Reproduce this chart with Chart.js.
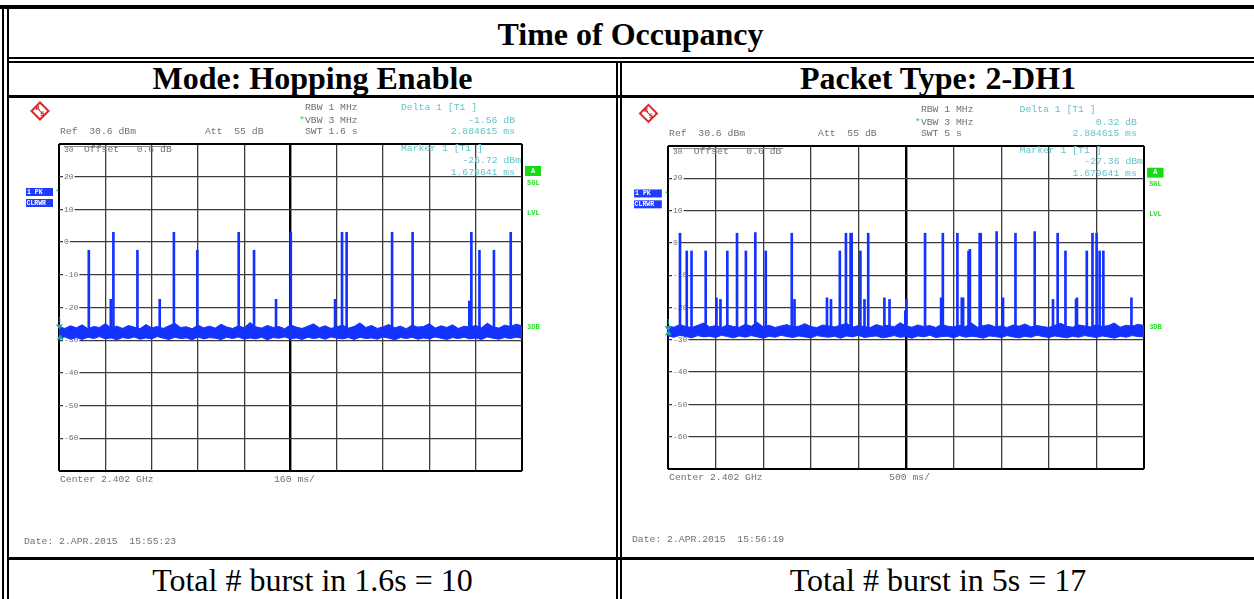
<!DOCTYPE html>
<html>
<head>
<meta charset="utf-8">
<script src="https://cdn.jsdelivr.net/npm/chart.js@4"></script>
<style>
html,body{margin:0;padding:0;background:#fff;}
#page{position:relative;width:1254px;height:599px;overflow:hidden;background:#fff;}
.ln{position:absolute;background:#000;}
.cell{position:absolute;text-align:center;font-family:"Liberation Serif","Times New Roman",serif;font-size:32px;line-height:32px;color:#000;white-space:nowrap;}
.b{font-weight:bold;}
canvas{position:absolute;}
</style>
</head>
<body>
<div id="page">
  <!-- table rules -->
  <div class="ln" style="left:0;top:5px;width:1254px;height:4px"></div>
  <div class="ln" style="left:2px;top:5px;width:2px;height:594px"></div>
  <div class="ln" style="left:7px;top:9px;width:2px;height:590px"></div>
  <div class="ln" style="left:7px;top:57px;width:1247px;height:2px"></div>
  <div class="ln" style="left:7px;top:61px;width:1247px;height:2px"></div>
  <div class="ln" style="left:616px;top:61px;width:2px;height:538px"></div>
  <div class="ln" style="left:620px;top:61px;width:2px;height:538px"></div>
  <div class="ln" style="left:7px;top:95px;width:1247px;height:3px"></div>
  <div class="ln" style="left:7px;top:557px;width:1247px;height:3px"></div>

  <div class="cell b" style="left:7px;width:1247px;top:18px">Time of Occupancy</div>
  <div class="cell b" style="left:9px;width:607px;top:62px">Mode: Hopping Enable</div>
  <div class="cell b" style="left:622px;width:632px;top:62px">Packet Type: 2-DH1</div>
  <div class="cell" style="left:9px;width:607px;top:564px">Total # burst in 1.6s = 10</div>
  <div class="cell" style="left:622px;width:632px;top:564px">Total # burst in 5s = 17</div>

  <canvas id="leftTrace" width="606" height="458" style="left:10px;top:99px"></canvas>
  <canvas id="rightTrace" width="631" height="458" style="left:623px;top:99px"></canvas>
</div>

<script>
// ---- level axis (dBm) ----
const levelMin = -70;
const levelMax = 30;
const levelTickLabels = ['30', '20', '10', '0', '-10', '-20', '-30', '-40', '-50', '-60'];
const burstBase = -27.5;

// ---- sweep 1: hopping enabled, SWT 1.6 s (time in ms) ----
const leftSweepMs = 1600;
const leftSpikeTimes = [103, 179, 188, 271, 348, 397, 478, 621, 674, 750, 801, 954, 978, 994, 1151, 1222, 1418, 1425, 1453, 1503, 1561];
const leftSpikePeaks = [-2.5, -17.5, 3, -2.5, -17.5, 3, -2.5, 3, -2.5, -17.5, 3, -17.5, 3, 3, 3, 3, -18, 3, -2.5, -2.5, 3];
const leftNoiseTimes = [0,20,40,60,80,100,120,140,160,180,200,220,240,260,280,300,320,340,360,380,
  400,420,440,460,480,500,520,540,560,580,600,620,640,660,680,700,720,740,760,780,
  800,820,840,860,880,900,920,940,960,980,1000,1020,1040,1060,1080,1100,1120,1140,1160,1180,
  1200,1220,1240,1260,1280,1300,1320,1340,1360,1380,1400,1420,1440,1460,1480,1500,1520,1540,1560,1580,1600];
const leftNoiseTop = [-25.9,-26.4,-25.6,-26.2,-25.3,-26.5,-25.8,-26.1,-24.9,-26.3,
  -25.7,-26.4,-25.5,-26.0,-26.5,-25.2,-26.2,-25.8,-26.4,-25.6,
  -24.8,-26.1,-25.9,-26.5,-25.4,-26.2,-25.7,-26.3,-25.1,-26.0,
  -26.4,-25.6,-26.2,-24.6,-25.9,-26.3,-25.5,-26.1,-25.8,-26.5,
  -25.3,-26.0,-26.4,-25.7,-25.0,-26.2,-25.6,-26.4,-25.9,-25.4,
  -26.3,-25.8,-24.7,-26.1,-25.5,-26.4,-25.9,-25.2,-26.2,-25.7,
  -26.5,-25.4,-26.0,-25.8,-24.9,-26.3,-25.6,-26.1,-25.3,-26.4,
  -25.7,-26.0,-25.5,-26.2,-24.8,-25.9,-26.3,-25.4,-25.8,-25.1,-25.6];
const leftNoiseBottom = [-29.4,-29.0,-29.7,-29.2,-29.8,-29.1,-29.5,-28.9,-29.6,-29.3,
  -29.9,-29.2,-29.5,-29.0,-29.7,-29.3,-29.6,-28.9,-29.4,-29.8,
  -29.1,-29.5,-29.3,-29.9,-29.0,-29.6,-29.2,-29.4,-29.8,-29.1,
  -29.5,-29.0,-29.7,-29.3,-29.6,-29.1,-29.9,-29.2,-29.4,-29.0,
  -29.6,-29.3,-29.8,-29.1,-29.5,-29.2,-29.7,-29.0,-29.4,-29.6,
  -29.2,-29.8,-29.1,-29.5,-29.3,-29.7,-29.0,-29.4,-29.9,-29.2,
  -29.5,-29.1,-29.7,-29.3,-29.6,-29.0,-29.4,-29.8,-29.2,-29.5,
  -29.1,-29.6,-29.3,-29.8,-29.0,-29.4,-29.7,-29.2,-29.5,-29.1,-29.4];
const leftMarker = [1.679641, -26.72];   // ms, dBm
const leftDelta = [2.884615, -1.56];     // ms, dB
const leftText = ['RBW 1 MHz', 'VBW 3 MHz', 'SWT 1.6 s', 'Ref  30.6 dBm', 'Att  55 dB',
  '-1.56 dB', '2.884615 ms', '-26.72 dBm', '1.679641 ms', '160 ms/', 'Date: 2.APR.2015  15:55:23'];

// ---- sweep 2: packet type 2-DH1, SWT 5 s (time in ms) ----
const rightSweepMs = 5000;
const rightSpikeTimes = [126,197,247,396,509,551,623,725,818,917,1027,1300,1329,1670,1712,1805,1869,1918,1929,2021,2064,2103,2273,2327,2493,2504,2700,2869,2887,3040,3086,3100,3157,3171,3274,3285,3452,3519,3650,3852,4044,4093,4175,4286,4296,4399,4459,4502,4534,4573,4868];
const rightSpikePeaks = [3,-2.5,-2.5,-2.5,-17,-17.5,-2.5,3,-2.5,3.2,-2.5,3,-17.5,-17,-17.5,-2.5,3,3,3,-2.5,-17.5,3,-17,-17.5,-21,-17.5,3,-17,3,3,-17,-17,-2.5,-2,3,3,3.5,-17,3,3.5,-17.5,3,-2.5,-17.5,-17,-2.5,3,3,-2.5,-2.5,-17];
const rightNoiseTimes = [0,62.5,125,187.5,250,312.5,375,437.5,500,562.5,625,687.5,750,812.5,875,937.5,
  1000,1062.5,1125,1187.5,1250,1312.5,1375,1437.5,1500,1562.5,1625,1687.5,1750,1812.5,1875,1937.5,
  2000,2062.5,2125,2187.5,2250,2312.5,2375,2437.5,2500,2562.5,2625,2687.5,2750,2812.5,2875,2937.5,
  3000,3062.5,3125,3187.5,3250,3312.5,3375,3437.5,3500,3562.5,3625,3687.5,3750,3812.5,3875,3937.5,
  4000,4062.5,4125,4187.5,4250,4312.5,4375,4437.5,4500,4562.5,4625,4687.5,4750,4812.5,4875,4937.5,5000];
const rightNoiseTop = [-25.7,-26.1,-25.3,-25.9,-26.2,-25.5,-24.8,-26.0,-25.6,-26.2,
  -25.4,-25.9,-26.1,-25.2,-25.8,-24.6,-26.0,-25.5,-26.2,-25.7,
  -25.3,-26.1,-25.8,-25.0,-25.9,-26.2,-25.4,-25.7,-26.0,-25.5,
  -24.9,-26.1,-25.6,-25.9,-26.2,-25.3,-25.8,-25.5,-26.0,-24.7,
  -25.7,-26.1,-25.4,-25.9,-25.6,-26.2,-25.2,-25.8,-26.0,-25.5,
  -25.9,-24.8,-26.1,-25.6,-25.3,-26.0,-25.7,-26.2,-25.4,-25.8,
  -25.1,-26.0,-25.6,-25.9,-26.2,-25.5,-24.9,-25.8,-26.1,-25.4,
  -25.7,-26.0,-25.3,-25.9,-25.6,-24.8,-26.1,-25.5,-25.8,-25.2,-25.6];
const rightNoiseBottom = [-28.8,-29.2,-28.6,-29.0,-29.4,-28.7,-29.1,-28.9,-29.3,-28.6,
  -29.0,-29.4,-28.8,-29.2,-28.7,-29.1,-29.5,-28.9,-29.2,-28.6,
  -29.0,-29.3,-28.8,-29.1,-29.4,-28.7,-29.0,-29.2,-28.9,-29.5,
  -28.8,-29.1,-28.6,-29.3,-29.0,-28.8,-29.4,-29.1,-28.7,-29.2,
  -29.0,-29.5,-28.8,-29.1,-28.6,-29.3,-29.0,-28.9,-29.4,-28.7,
  -29.2,-28.9,-29.1,-29.5,-28.8,-29.0,-29.3,-28.7,-29.1,-29.4,
  -28.9,-29.2,-28.6,-29.0,-29.3,-28.8,-29.1,-29.4,-28.9,-29.2,
  -28.7,-29.0,-29.3,-28.8,-29.1,-29.5,-28.9,-29.2,-28.7,-29.0,-29.1];
const rightMarker = [1.679641, -27.36];
const rightDelta = [2.884615, 0.32];
const rightText = ['RBW 1 MHz', 'VBW 3 MHz', 'SWT 5 s', 'Ref  30.6 dBm', 'Att  55 dB',
  '0.32 dB', '2.884615 ms', '-27.36 dBm', '1.679641 ms', '500 ms/', 'Date: 2.APR.2015  15:56:19'];

const TRACE = '#1432ff';
const GREY_TXT = '#707070';
const CYAN_TXT = '#62c4ca';
const GREEN = '#22dd22';
const MONO = '"Liberation Mono", "DejaVu Sans Mono", monospace';

function makeAnalyzer(id, sweepMs, times, top, bottom, spikeT, spikeP, marker, delta, txt, pad) {
  const canvas = document.getElementById(id);

  const screenPlugin = {
    id: 'screen_' + id,
    beforeDatasetsDraw(chart) {
      const c = chart.ctx, a = chart.chartArea, ys = chart.scales.y;
      c.save();
      c.font = '8px ' + MONO;
      c.textBaseline = 'middle';
      levelTickLabels.forEach((lab, i) => {
        const v = levelMax - i * 10;
        const x = a.left + 5;
        if (v === levelMax) {
          c.fillStyle = GREY_TXT;
          c.fillText(lab, x, a.top + 6);
          return;
        }
        const y = ys.getPixelForValue(v);
        const w = c.measureText(lab).width;
        c.fillStyle = '#fff';
        c.fillRect(x - 1, y - 3, w + 2, 6);
        c.fillStyle = GREY_TXT;
        c.fillText(lab, x, y);
      });
      // reference offset indicator under the top edge
      c.strokeStyle = '#8a8a8a';
      c.lineWidth = 1;
      c.beginPath();
      c.moveTo(a.left + 5, a.top + 2.5);
      c.lineTo(a.left + 112 * a.width / 463, a.top + 2.5);
      c.stroke();
      c.restore();
    },
    afterDatasetsDraw(chart) {
      const c = chart.ctx, xs = chart.scales.x, ys = chart.scales.y;
      const mx = xs.getPixelForValue(marker[0]);
      const my = ys.getPixelForValue(marker[1]);
      const dx = xs.getPixelForValue(marker[0] + delta[0]);
      const dy = ys.getPixelForValue(marker[1] + delta[1]);
      c.save();
      c.fillStyle = '#1aa5a5';
      c.beginPath();
      c.moveTo(mx, my); c.lineTo(mx - 3.5, my - 5); c.lineTo(mx + 3.5, my - 5); c.closePath(); c.fill();
      c.beginPath();
      c.moveTo(dx, dy); c.lineTo(dx - 3.5, dy + 5); c.lineTo(dx + 3.5, dy + 5); c.closePath(); c.fill();
      c.font = '7px ' + MONO;
      c.textAlign = 'center';
      c.textBaseline = 'middle';
      c.fillText('1', mx, my - 9);
      c.restore();
    },
    afterDraw(chart) {
      const c = chart.ctx, a = chart.chartArea;
      const sx = a.width / 463, sy = a.height / 327;
      const X = d => a.left + d * sx;
      const Y = d => a.top + d * sy;
      c.save();
      c.textBaseline = 'middle';
      c.font = '9.75px ' + MONO;
      const put = (s, x, y, col, align) => {
        c.fillStyle = col; c.textAlign = align || 'left'; c.fillText(s, x, y);
      };
      put(txt[0], X(246), Y(-37), GREY_TXT);
      put('*', X(240), Y(-24), GREEN);
      put(txt[1], X(246), Y(-24), GREY_TXT);
      put(txt[2], X(246), Y(-13), GREY_TXT);
      put(txt[3], X(1), Y(-13), GREY_TXT);
      put(txt[4], X(146), Y(-13), GREY_TXT);
      put('Delta 1 [T1 ]', X(342), Y(-37), CYAN_TXT);
      put(txt[5], X(456), Y(-24), CYAN_TXT, 'right');
      put(txt[6], X(456), Y(-12.5), CYAN_TXT, 'right');
      put('Offset   0.6 dB', X(25), Y(5), GREY_TXT);
      put('Marker 1 [T1 ]', X(342), Y(4.5), CYAN_TXT);
      put(txt[7], X(462), Y(16), CYAN_TXT, 'right');
      put(txt[8], X(456), Y(28), CYAN_TXT, 'right');
      put('Center 2.402 GHz', X(1), a.bottom + 8, GREY_TXT);
      put(txt[9], X(215), a.bottom + 8, GREY_TXT);
      put(txt[10], X(-35), a.bottom + 70, GREY_TXT);

      // right-hand softkey flags
      c.fillStyle = '#11dd11';
      c.fillRect(X(466), Y(22), 16 * sx, 10 * sy);
      c.font = 'bold 7px ' + MONO;
      put('A', X(474), Y(27), '#ffffff', 'center');
      put('SGL', X(468), Y(39), GREEN);
      put('LVL', X(468), Y(69), GREEN);
      put('3DB', X(468), Y(183), GREEN);

      // trace info boxes
      c.fillStyle = '#1e3cff';
      c.fillRect(X(-33), Y(44), 27 * sx, 8);
      c.fillRect(X(-33), Y(55), 27 * sx, 8);
      c.font = 'bold 6.5px ' + MONO;
      put('1 PK', X(-32), Y(44) + 4, '#ffffff');
      put('CLRWR', X(-32.5), Y(55) + 4, '#ffffff');
      c.font = '8px ' + MONO;
      put('*', X(-4), Y(48), GREEN);

      // maker logo
      const lx = X(-19), ly = Y(-33);
      c.translate(lx, ly);
      c.rotate(Math.PI / 4);
      c.strokeStyle = '#d42a2a';
      c.lineWidth = 2;
      c.strokeRect(-6, -6, 12, 12);
      c.lineWidth = 1;
      c.beginPath(); c.moveTo(-6, 0); c.lineTo(6, 0); c.stroke();
      c.rotate(-Math.PI / 4);
      c.fillStyle = '#d42a2a';
      c.font = 'bold 6px "DejaVu Sans", sans-serif';
      c.textAlign = 'center';
      c.fillText('R', -2.5, -2.5);
      c.fillText('S', 2.5, 3);
      c.restore();
    }
  };

  const edgeW = (v, max, min) => (v === max || v === min) ? 2 : 1.3;

  new Chart(canvas, {
    type: 'line',
    data: {
      datasets: [
        {
          type: 'line',
          data: times.map((t, i) => ({ x: t, y: bottom[i] })),
          borderColor: TRACE, borderWidth: 1, pointRadius: 0, tension: 0, fill: false, order: 3
        },
        {
          type: 'line',
          data: times.map((t, i) => ({ x: t, y: top[i] })),
          borderColor: TRACE, borderWidth: 1, pointRadius: 0, tension: 0,
          fill: '-1', backgroundColor: TRACE, order: 2
        },
        {
          type: 'bar',
          data: spikeT.map((t, i) => ({ x: t, y: [burstBase, spikeP[i]] })),
          backgroundColor: TRACE, borderWidth: 0, barThickness: 2, order: 1
        }
      ]
    },
    options: {
      responsive: false,
      animation: false,
      devicePixelRatio: 1,
      layout: { padding: pad },
      plugins: { legend: { display: false }, tooltip: { enabled: false } },
      scales: {
        x: {
          type: 'linear', min: 0, max: sweepMs, offset: false,
          ticks: { display: false, stepSize: sweepMs / 10 },
          border: { display: false },
          grid: {
            offset: false, drawTicks: false,
            color: c => (c.tick && (c.tick.value === 0 || c.tick.value === sweepMs || c.tick.value === sweepMs / 2)) ? '#000' : '#3c3c3c',
            lineWidth: c => c.tick && c.tick.value === sweepMs / 2 ? 2.4 : edgeW(c.tick ? c.tick.value : -1, sweepMs, 0)
          },
          afterFit(s) { s.height = 0; }
        },
        y: {
          type: 'linear', min: levelMin, max: levelMax,
          ticks: { display: false, stepSize: 10 },
          border: { display: false },
          grid: {
            drawTicks: false,
            color: c => (c.tick && (c.tick.value === levelMax || c.tick.value === levelMin)) ? '#000' : '#3c3c3c',
            lineWidth: c => edgeW(c.tick ? c.tick.value : 0, levelMax, levelMin)
          },
          afterFit(s) { s.width = 0; }
        }
      }
    },
    plugins: [screenPlugin]
  });
}

makeAnalyzer('leftTrace', leftSweepMs, leftNoiseTimes, leftNoiseTop, leftNoiseBottom,
  leftSpikeTimes, leftSpikePeaks, leftMarker, leftDelta, leftText,
  { left: 49, top: 45, right: 94, bottom: 86 });
makeAnalyzer('rightTrace', rightSweepMs, rightNoiseTimes, rightNoiseTop, rightNoiseBottom,
  rightSpikeTimes, rightSpikePeaks, rightMarker, rightDelta, rightText,
  { left: 45, top: 47, right: 110, bottom: 88 });
</script>
</body>
</html>
